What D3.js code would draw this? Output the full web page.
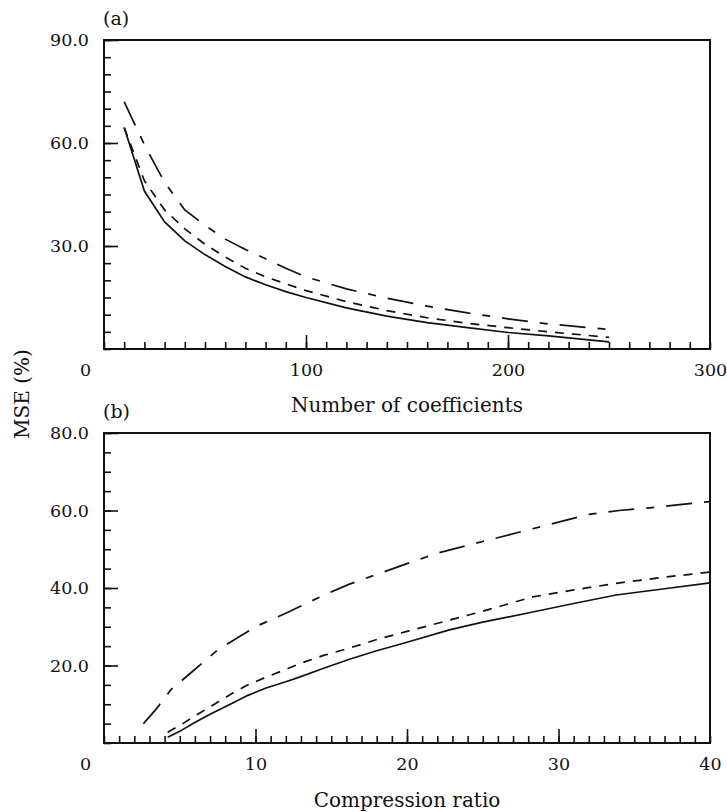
<!DOCTYPE html>
<html>
<head>
<meta charset="utf-8">
<script src="https://cdn.jsdelivr.net/npm/d3@7"></script>
<style>
  html, body { margin: 0; padding: 0; background: #fff; }
  svg text { font-family: "DejaVu Serif", "Liberation Serif", serif; fill: #111; }
</style>
</head>
<body>
<svg id="chart" width="727" height="812"></svg>
<script>
// ---------- Panel (a): MSE vs number of coefficients ----------
const coefX = [10, 20, 30, 40, 50, 60, 70, 80, 90, 100, 120, 140, 160, 180, 200, 220, 250];
const aSolid = [64.5, 46, 37, 31.5, 27.5, 24, 21, 18.7, 16.7, 15, 12, 9.6, 7.7, 6.2, 4.8, 3.8, 2.1];
const aDashed = [64.5, 49, 40.5, 35, 30.5, 26.8, 23.5, 21, 19, 17, 13.8, 11.2, 9.1, 7.5, 6.2, 5.0, 3.4];
const aDashDot = [72, 59.5, 48.5, 40.5, 36, 32, 29, 26.3, 23.5, 21, 17.5, 14.8, 12.5, 10.5, 8.8, 7.3, 5.7];
const aXTicks = [0, 100, 200, 300];
const aYTicks = [30, 60, 90];

// ---------- Panel (b): MSE vs compression ratio ----------
const bSolidX = [4.2, 5, 5.9, 7, 8.5, 9.5, 10.7, 12, 12.9, 14.5, 16.2, 18, 20, 22.8, 25, 28.3, 31, 33.8, 37, 40];
const bSolid = [1.5, 3, 5.1, 7.4, 10.3, 12.3, 14.2, 15.8, 17, 19.3, 21.6, 23.8, 26, 29.2, 31.2, 33.8, 36, 38.2, 39.8, 41.3];
const bDashedX = [4.2, 5, 6.3, 7.5, 8.5, 9.5, 10.7, 12, 13, 14.5, 16.2, 18, 20, 22.8, 25, 28.3, 31, 33.8, 37, 40];
const bDashed = [2.8, 4.5, 7.7, 10.5, 12.9, 15, 17, 19, 20.6, 22.6, 24.5, 26.7, 28.8, 31.7, 34, 37.7, 39.5, 41.2, 42.8, 44.1];
const bDashDotX = [2.6, 3.5, 4.4, 5.7, 7.5, 9, 10, 12, 14.7, 16.2, 18, 20, 22, 25, 28, 30, 32, 34, 36, 38, 40];
const bDashDot = [5, 9, 13.7, 18, 24, 27.6, 30, 33.5, 38.5, 41, 43.5, 46.3, 49, 52, 55, 57, 59, 60, 60.7, 61.5, 62.3];
const bXTicks = [0, 10, 20, 30, 40];
const bYTicks = [20, 40, 60, 80];

const svg = d3.select("#chart");
const L = 104, R = 710;

const styles = {
  solid: null,
  dashed: "9,8",
  dashdot: "26,12,8,12"
};

function panel(opts) {
  const x = d3.scaleLinear().domain(opts.xDomain).range([L, R]);
  const y = d3.scaleLinear().domain(opts.yDomain).range([opts.bottom, opts.top]);
  const g = svg.append("g");

  // minor ticks x
  const xMinor = g.append("g").attr("transform", `translate(0,${opts.bottom})`)
    .call(d3.axisBottom(x).tickValues(d3.range(opts.xDomain[0], opts.xDomain[1] + 1e-9, opts.xMinorStep))
      .tickSize(-7).tickFormat(""));
  // major ticks x with labels
  const xMajor = g.append("g").attr("transform", `translate(0,${opts.bottom})`)
    .call(d3.axisBottom(x).tickValues(opts.xTicks).tickSize(-14).tickPadding(15)
      .tickFormat(d3.format("d")));
  // minor ticks y
  g.append("g").attr("transform", `translate(${L},0)`)
    .call(d3.axisLeft(y).tickValues(d3.range(opts.yDomain[0], opts.yDomain[1] + 1e-9, 5))
      .tickSize(-7).tickFormat(""));
  // major ticks y
  g.append("g").attr("transform", `translate(${L},0)`)
    .call(d3.axisLeft(y).tickValues(opts.yTicks).tickSize(-14).tickPadding(15)
      .tickFormat(d3.format(".1f")));

  g.selectAll(".domain").remove();
  g.selectAll(".tick line").attr("stroke", "#111").attr("stroke-width", 1.6);
  g.selectAll(".tick text").style("font-size", "17.5px").attr("fill", "#111");
  // the origin label sits left of the axis corner in the reference
  xMajor.selectAll(".tick text").filter(d => d === 0).attr("x", -19);
  // x labels: hide edge tick lines at frame corners
  xMajor.selectAll(".tick line").filter(d => d === opts.xDomain[0] || d === opts.xDomain[1]).remove();

  // frame
  g.append("rect")
    .attr("x", L).attr("y", opts.top)
    .attr("width", R - L).attr("height", opts.bottom - opts.top)
    .attr("fill", "none").attr("stroke", "#111").attr("stroke-width", 2);

  const line = d3.line().x(d => x(d[0])).y(d => y(d[1]));
  opts.series.forEach(s => {
    g.append("path")
      .datum(s.xs.map((v, i) => [v, s.ys[i]]))
      .attr("d", line)
      .attr("fill", "none")
      .attr("stroke", "#111")
      .attr("stroke-width", 1.7)
      .attr("stroke-dasharray", styles[s.style]);
  });

  g.append("text").attr("x", L - 1).attr("y", opts.top - 15)
    .style("font-size", "19px").text(opts.label);
  g.append("text").attr("x", (L + R) / 2).attr("y", opts.titleY)
    .attr("text-anchor", "middle").style("font-size", "20px").text(opts.title);
}

panel({
  xDomain: [0, 300], yDomain: [0, 90], top: 40, bottom: 349,
  xMinorStep: 10, xTicks: aXTicks, yTicks: aYTicks,
  label: "(a)", title: "Number of coefficients", titleY: 412,
  series: [
    { xs: coefX, ys: aSolid, style: "solid" },
    { xs: coefX, ys: aDashed, style: "dashed" },
    { xs: coefX, ys: aDashDot, style: "dashdot" }
  ]
});

panel({
  xDomain: [0, 40], yDomain: [0, 80], top: 433, bottom: 743,
  xMinorStep: 1, xTicks: bXTicks, yTicks: bYTicks,
  label: "(b)", title: "Compression ratio", titleY: 807,
  series: [
    { xs: bSolidX, ys: bSolid, style: "solid" },
    { xs: bDashedX, ys: bDashed, style: "dashed" },
    { xs: bDashDotX, ys: bDashDot, style: "dashdot" }
  ]
});

// shared y-axis title
svg.append("text")
  .attr("transform", "translate(29,394) rotate(-90)")
  .attr("text-anchor", "middle")
  .style("font-size", "20px")
  .text("MSE (%)");
</script>
</body>
</html>
